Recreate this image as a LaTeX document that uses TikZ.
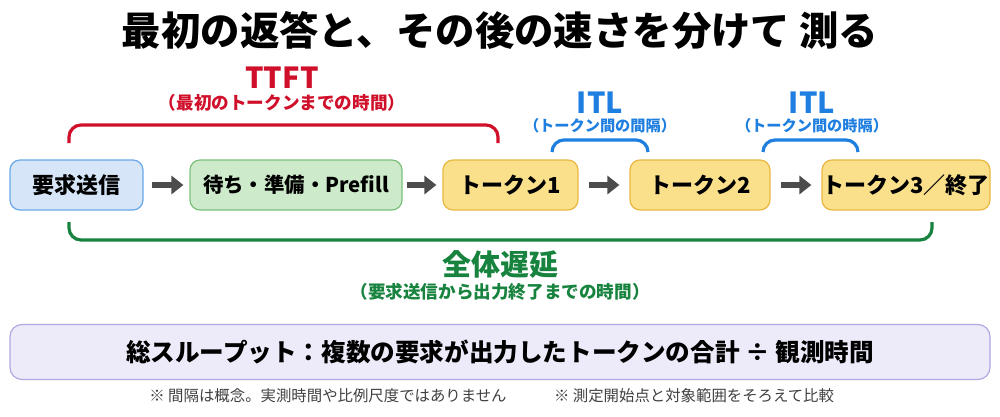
\documentclass[tikz,border=0pt]{standalone}
\usepackage{fontspec}
\setmainfont{Noto Sans CJK JP}
\usetikzlibrary{arrows.meta}
\definecolor{bluef}{HTML}{D6E6F8}\definecolor{blued}{HTML}{6AA8E8}
\definecolor{greenf}{HTML}{CDEBCB}\definecolor{greend}{HTML}{7CC07C}
\definecolor{yelf}{HTML}{FBE08C}\definecolor{yeld}{HTML}{E8B840}
\definecolor{red1}{HTML}{D0102A}\definecolor{grn1}{HTML}{17833F}\definecolor{blu1}{HTML}{1F7FE0}
\definecolor{lavf}{HTML}{EDEBFA}\definecolor{lavd}{HTML}{B0A8E0}
\begin{document}
\begin{tikzpicture}[x=0.5pt,y=-0.5pt,
 box/.style={draw,rounded corners=5pt,line width=0.6pt,inner sep=0,font=\fontsize{11}{13}\selectfont\bfseries},
 arr/.style={draw=black!70,line width=3pt,-{Triangle[length=6pt,width=9pt]}},
 br/.style={line width=1.6pt,rounded corners=6pt},
 lbl/.style={font=\fontsize{14.5}{17}\selectfont\bfseries},
 sub/.style={font=\fontsize{8.8}{10}\selectfont\bfseries},
 isub/.style={font=\fontsize{7.6}{9}\selectfont\bfseries}]
\useasboundingbox (0,0) rectangle (1000,417);
\node[font=\fontsize{19.7}{22}\selectfont\bfseries] (title) at (500,30) {最初の返答と、その後の速さを分けて 測る};
\node[box,fill=bluef,draw=blued,minimum width=66.5pt,minimum height=25pt] (a) at (76.5,185) {要求送信};
\node[box,fill=greenf,draw=greend,minimum width=106pt,minimum height=25pt,font=\fontsize{10.2}{12}\selectfont\bfseries] (b) at (296,185) {待ち・準備・Prefill};
\node[box,fill=yelf,draw=yeld,minimum width=67.5pt,minimum height=25pt] (c) at (510.5,185) {トークン1};
\node[box,fill=yelf,draw=yeld,minimum width=70pt,minimum height=25pt] (d) at (700,185) {トークン2};
\node[box,fill=yelf,draw=yeld,minimum width=84pt,minimum height=25pt] (e) at (906,185) {トークン3／終了};
\draw[arr] ([xshift=4pt]a.east) -- ([xshift=-3pt]b.west);
\draw[arr] ([xshift=2pt]b.east) -- ([xshift=-3pt]c.west);
\draw[arr] ([xshift=5pt]c.east) -- ([xshift=-5pt]d.west);
\draw[arr] ([xshift=5pt]d.east) -- ([xshift=-5pt]e.west);
\coordinate (r1) at (69,143); \coordinate (r2) at (498,143);
\draw[br,red1] (r1) -- (69,125) -- (498,125) -- (r2);
\node[lbl,red1] (ttft) at (282,78) {TTFT};
\node[sub,red1] (ttfts) at (282,103) {（最初のトークンまでの時間）};
\coordinate (i1) at (552,152); \coordinate (i2) at (648,152);
\draw[br,blu1] (i1) -- (552,140) -- (648,140) -- (i2);
\node[lbl,blu1] (itl1) at (600,103) {ITL};
\node[isub,blu1] (itl1s) at (600,126) {（トークン間の間隔）};
\coordinate (j1) at (763,152); \coordinate (j2) at (858,152);
\draw[br,blu1] (j1) -- (763,140) -- (858,140) -- (j2);
\node[lbl,blu1] (itl2) at (812,103) {ITL};
\node[isub,blu1] (itl2s) at (812,126) {（トークン間の時隔）};
\coordinate (g1) at (69,222); \coordinate (g2) at (932,222);
\draw[br,grn1] (g1) -- (69,240) -- (932,240) -- (g2);
\node[lbl,grn1] (all) at (500,265) {全体遅延};
\node[sub,grn1] (alls) at (500,292) {（要求送信から出力終了までの時間）};
\node[draw=lavd,fill=lavf,rounded corners=6pt,line width=0.6pt,minimum width=490pt,minimum height=27.5pt,font=\fontsize{12.3}{14}\selectfont\bfseries] (tp) at (500,352) {総スループット：複数の要求が出力したトークンの合計 ÷ 観測時間};
\node[font=\fontsize{7.7}{9}\selectfont,black!75] (n1) at (328,396) {※ 間隔は概念。実測時間や比例尺度ではありません};
\node[font=\fontsize{7.7}{9}\selectfont,black!75] (n2) at (694,396) {※ 測定開始点と対象範囲をそろえて比較};
\end{tikzpicture}
\end{document}
